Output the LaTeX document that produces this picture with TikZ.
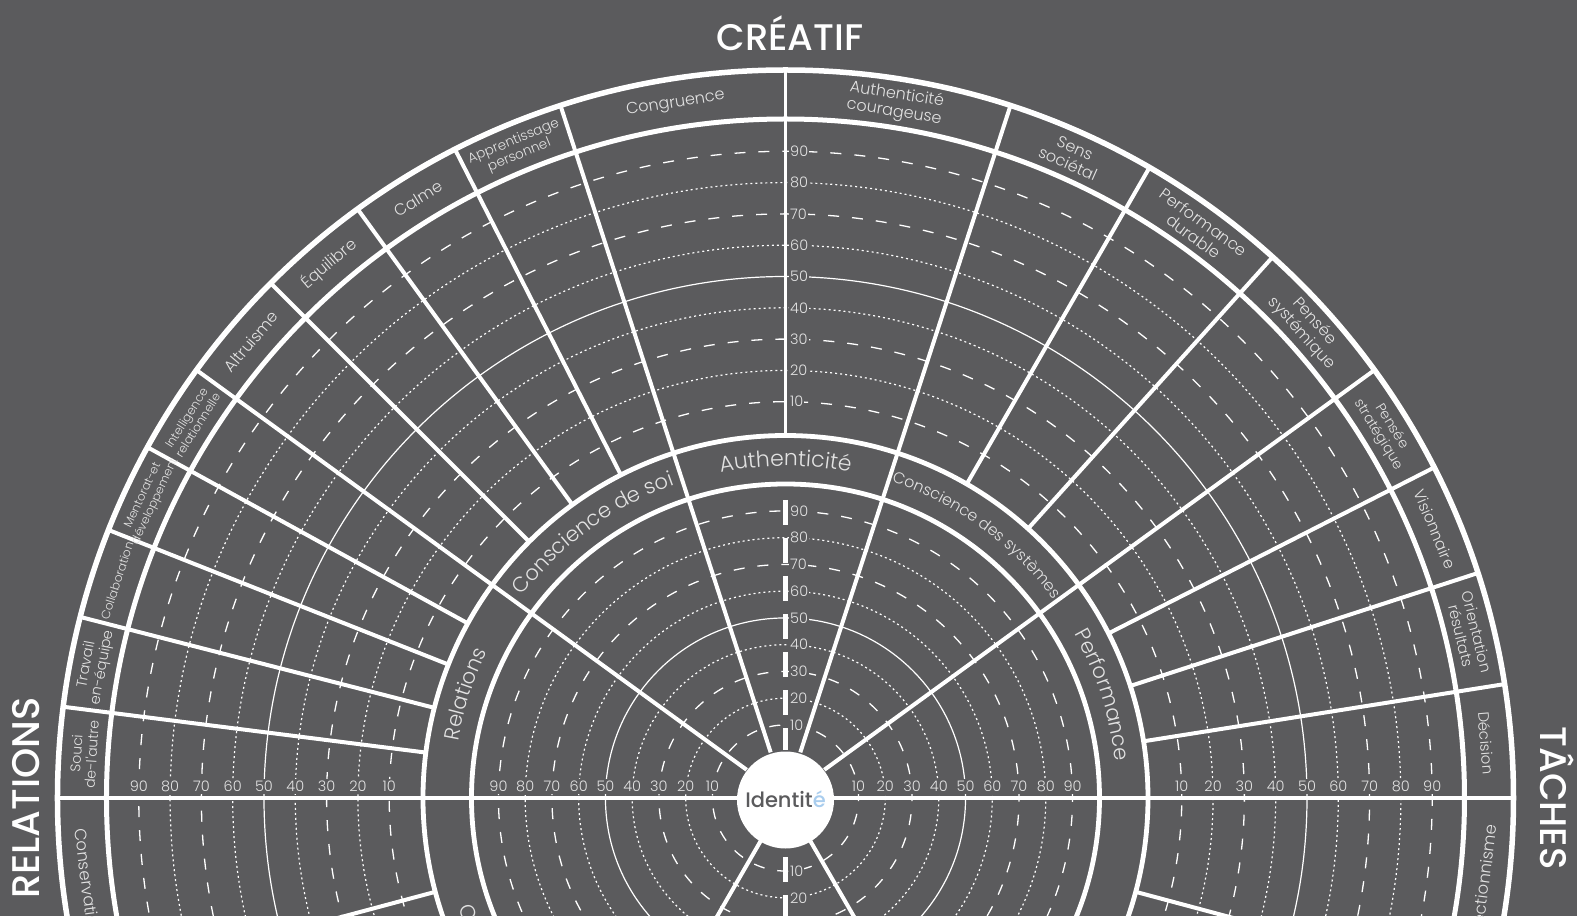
\documentclass[tikz,border=0pt]{standalone}
\usepackage{fontspec}
\setmainfont{Poppins}
\newfontfamily\lt{Poppins Light}
\newfontfamily\md{Poppins Medium}
\usetikzlibrary{decorations.text}
\definecolor{bg}{HTML}{5B5B5D}
\definecolor{txt}{HTML}{E2E2E2}
\definecolor{idgray}{HTML}{5B5B5D}
\definecolor{idblue}{HTML}{A9CDEE}
\tikzset{
  ldash/.style={draw=white, line width=1.3pt, dash pattern=on 11pt off 13pt},
  sdot/.style={draw=white, line width=1.2pt, dash pattern=on 2pt off 3pt},
  solidthin/.style={draw=white, line width=1.2pt},
  ring/.style={draw=white, line width=#1},
  spoke/.style={draw=white, line width=4pt},
  num/.style={text=txt, fill=bg, font=\lt\fontsize{14.5}{15}\selectfont, inner xsep=1pt, inner ysep=2.5pt},
  olab/.style 2 args={text=txt, align=center, inner sep=0pt, font=\lt\fontsize{#1}{#2}\selectfont},
  title/.style={text=white, font=\md\fontsize{37}{37}\selectfont, inner sep=0pt},
  mlab/.style={decorate, decoration={text along path, text align=center, text={#1}}},
  mlabl/.style={decorate, decoration={text along path, text={#1}}}
}
\begin{document}
\begin{tikzpicture}[x=1pt,y=1pt]
\fill[bg] (-785.5,-118) rectangle (791.5,798);
\useasboundingbox (-785.5,-118) rectangle (791.5,798);
\begin{scope}
\clip (-785.5,-118) rectangle (791.5,798);
% scale circles
\foreach \v/\st in {10/ldash,20/sdot,30/ldash,40/sdot,50/solidthin,60/sdot,70/ldash,80/sdot,90/ldash}{
  \pgfmathsetmacro\ro{365+3.13*\v}
  \pgfmathsetmacro\ri{46.3+2.675*\v}
  \draw[\st] (0,0) circle[radius=\ro pt];
  \draw[\st] (0,0) circle[radius=\ri pt];
}
% main spokes
\foreach \a in {36,72,108,144,240,300} \draw[spoke] (\a:48pt) -- (\a:728pt);
\draw[spoke, line width=4.5pt] (180:728pt) -- (0:728pt);
% outer dividers
\foreach \a in {9,18,27,48,60,117,126,135,151.2,158.4,165.6,172.8,195,345} \draw[spoke] (\a:362pt) -- (\a:728pt);
\draw[white, line width=3.2pt] (90:362pt) -- (90:728pt);
\draw[white, line width=4.5pt, dash pattern=on 25pt off 13pt] (0,298) -- (0,48);
\draw[white, line width=4.5pt, dash pattern=on 25pt off 13pt] (0,-59) -- (0,-314);
% rings
\draw[ring=5.5pt] (0,0) circle[radius=728pt];
\draw[ring=5pt] (0,0) circle[radius=679pt];
\draw[ring=4.8pt] (0,0) circle[radius=362.5pt];
\draw[ring=4.8pt] (0,0) circle[radius=314pt];
% numbers
\foreach \v in {10,20,...,90}{
  \pgfmathsetmacro\ro{365+3.13*\v}
  \pgfmathsetmacro\ri{46.3+2.675*\v}
  \node[num, anchor=west] (vo\v) at (3.5,\ro) {\v};
  \node[num, anchor=west] (vi\v) at (3.5,\ri) {\v};
  \node[num, anchor=base] (hlo\v) at (-\ro,6.3) {\v};
  \node[num, anchor=base] (hli\v) at (-\ri,6.3) {\v};
  \node[num, anchor=base] (hri\v) at (\ri,6.3) {\v};
  \node[num, anchor=base] (hro\v) at (\ro,6.3) {\v};
}
\node[num, anchor=west] (vb10) at (3.5,-73.05) {10};
\node[num, anchor=west] (vb20) at (3.5,-99.8) {20};
% middle band labels
\path[mlab={|\lt\fontsize{21}{21}\selectfont\color{txt}|Relations}] (180:332pt) arc[start angle=180, end angle=144, radius=332pt];
\path[mlab={|\lt\fontsize{21}{21}\selectfont\color{txt}|Conscience de soi}] (144:332pt) arc[start angle=144, end angle=108, radius=332pt];
\path[mlab={|\lt\fontsize{22}{22}\selectfont\color{txt}|Authenticité}] (108:332pt) arc[start angle=108, end angle=72, radius=332pt];
\path[mlab={|\lt\fontsize{15.7}{15.7}\selectfont\color{txt}|Conscience des systèmes}] (72:333.5pt) arc[start angle=72, end angle=36, radius=333.5pt];
\path[mlab={|\lt\fontsize{21}{21}\selectfont\color{txt}|Performance}] (36:332pt) arc[start angle=36, end angle=0, radius=332pt];
\path[mlabl={|\lt\fontsize{21}{21}\selectfont\color{txt}|Conformité}] (198.5:345pt) arc[start angle=198.5, end angle=240, radius=345pt];
% outer labels
\node[olab={16}{17.5}, rotate=-9] (l01) at (81:703pt) {Authenticité\\courageuse};
\node[olab={16}{17.5}, rotate=9] (l02) at (99:703pt) {Congruence};
\node[olab={13.5}{15}, rotate=22.5] (l03) at (112.5:703pt) {Apprentissage\\personnel};
\node[olab={16}{17.5}, rotate=31.5] (l04) at (121.5:703pt) {Calme};
\node[olab={16}{17.5}, rotate=40.5] (l05) at (130.5:703pt) {Équilibre};
\node[olab={16}{17.5}, rotate=49.5] (l06) at (139.5:703pt) {Altruisme};
\node[olab={12}{13.5}, rotate=57.6] (l07) at (147.6:703pt) {Intelligence\\relationnelle};
\node[olab={11.8}{13.5}, rotate=64.8] (l08) at (154.8:703pt) {Mentorat-et\\développement};
\node[olab={12}{13.5}, rotate=72] (l09) at (162:703pt) {Collaboration};
\node[olab={14.5}{16}, rotate=79.2] (l10) at (169.2:703pt) {Travail\\en-équipe};
\node[olab={14}{15.5}, rotate=86.4] (l11) at (176.4:703pt) {Souci\\de-l'autre};
\node[olab={16}{17.5}, rotate=-24] (l12) at (66:703pt) {Sens\\sociétal};
\node[olab={16}{17.5}, rotate=-36] (l13) at (54:703pt) {Performance\\durable};
\node[olab={16}{17.5}, rotate=-48] (l14) at (42:703pt) {Pensée\\systémique};
\node[olab={14}{15.5}, rotate=-58.5] (l15) at (31.5:703pt) {Pensée\\stratégique};
\node[olab={15.5}{17}, rotate=-67.5] (l16) at (22.5:703pt) {Visionnaire};
\node[olab={15}{16.5}, rotate=-76.5] (l17) at (13.5:703pt) {Orientation\\résultats};
\node[olab={15}{16.5}, rotate=-85.5] (l18) at (4.5:703pt) {Décision};
\node[olab={16.5}{18}, rotate=-82.5] (l19) at (187.5:703pt) {Conservatisme};
\node[olab={16.5}{18}, rotate=82.5] (l20) at (352.5:703pt) {Perfectionnisme};
% identity
\fill[white] (0,-2) circle[radius=48.5pt];
\node[inner sep=0pt, font=\md\fontsize{21}{21}\selectfont] (id) at (0,-1.5) {\textcolor{idgray}{Identit}\textcolor{idblue}{é}};
\end{scope}
% titles
\node[title] (tCreatif) at (4.5,765) {CRÉATIF};
\node[title, font=\md\fontsize{38.5}{38.5}\selectfont, rotate=90] (tRel) at (-759.5,0) {RELATIONS};
\node[title, rotate=-90] (tTach) at (771.5,0) {TÂCHES};
\end{tikzpicture}
\end{document}
